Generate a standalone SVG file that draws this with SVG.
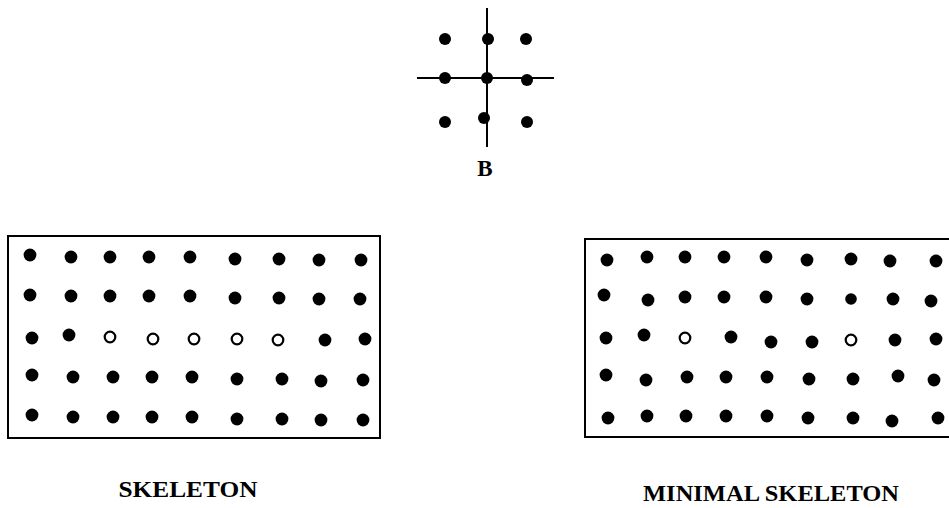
<svg xmlns="http://www.w3.org/2000/svg" width="949" height="508" viewBox="0 0 949 508">
<style>
.d{fill:#000}
.o{fill:none;stroke:#000;stroke-width:2.2}
.box{fill:none;stroke:#000;stroke-width:2}
.ln{stroke:#000;stroke-width:2}
.t{font-family:"Liberation Serif","Times New Roman",serif;font-weight:bold;fill:#000;text-anchor:middle}
</style>
<rect width="949" height="508" fill="#fff"/>
<g id="structuring-element-B">
<line class="ln" x1="487" y1="8" x2="487" y2="147"/>
<line class="ln" x1="417" y1="78" x2="554" y2="78"/>
<circle class="d" cx="445" cy="39" r="6"/><circle class="d" cx="488" cy="39" r="6"/><circle class="d" cx="526" cy="39" r="6"/>
<circle class="d" cx="445" cy="78" r="6"/><circle class="d" cx="487" cy="78" r="6"/><circle class="d" cx="527" cy="80" r="6"/>
<circle class="d" cx="445" cy="122" r="6"/><circle class="d" cx="484" cy="118" r="6"/><circle class="d" cx="527" cy="122" r="6"/>
<text class="t" x="485" y="176" font-size="23">B</text>
</g>
<g id="skeleton">
<rect class="box" x="8" y="236" width="372" height="202"/>
<g>
<circle class="d" cx="30" cy="255" r="6.4"/><circle class="d" cx="71" cy="257" r="6.4"/><circle class="d" cx="110" cy="257" r="6.4"/><circle class="d" cx="149" cy="257" r="6.4"/><circle class="d" cx="190" cy="257" r="6.4"/><circle class="d" cx="235" cy="259" r="6.4"/><circle class="d" cx="279" cy="259" r="6.4"/><circle class="d" cx="319" cy="260" r="6.4"/><circle class="d" cx="361" cy="260" r="6.4"/>
<circle class="d" cx="30" cy="295" r="6.4"/><circle class="d" cx="71" cy="296" r="6.4"/><circle class="d" cx="110" cy="296" r="6.4"/><circle class="d" cx="149" cy="296" r="6.4"/><circle class="d" cx="190" cy="296" r="6.4"/><circle class="d" cx="235" cy="298" r="6.4"/><circle class="d" cx="279" cy="298" r="6.4"/><circle class="d" cx="319" cy="299" r="6.4"/><circle class="d" cx="360" cy="299" r="6.4"/>
<circle class="d" cx="32" cy="338" r="6.4"/><circle class="d" cx="69" cy="335" r="6.4"/><circle class="o" cx="110" cy="337" r="5.3"/><circle class="o" cx="153" cy="339" r="5.3"/><circle class="o" cx="194" cy="339" r="5.3"/><circle class="o" cx="237" cy="339" r="5.3"/><circle class="o" cx="278" cy="340" r="5.3"/><circle class="d" cx="325" cy="340" r="6.4"/><circle class="d" cx="365" cy="339" r="6.4"/>
<circle class="d" cx="32" cy="375" r="6.4"/><circle class="d" cx="73" cy="377" r="6.4"/><circle class="d" cx="113" cy="377" r="6.4"/><circle class="d" cx="152" cy="377" r="6.4"/><circle class="d" cx="192" cy="377" r="6.4"/><circle class="d" cx="237" cy="379" r="6.4"/><circle class="d" cx="282" cy="379" r="6.4"/><circle class="d" cx="321" cy="381" r="6.4"/><circle class="d" cx="363" cy="380" r="6.4"/>
<circle class="d" cx="32" cy="415" r="6.4"/><circle class="d" cx="73" cy="417" r="6.4"/><circle class="d" cx="113" cy="417" r="6.4"/><circle class="d" cx="152" cy="417" r="6.4"/><circle class="d" cx="192" cy="417" r="6.4"/><circle class="d" cx="237" cy="419" r="6.4"/><circle class="d" cx="282" cy="419" r="6.4"/><circle class="d" cx="321" cy="420" r="6.4"/><circle class="d" cx="363" cy="420" r="6.4"/>
</g>
<text class="t" x="188" y="497" font-size="23" textLength="139" lengthAdjust="spacingAndGlyphs">SKELETON</text>
</g>
<g id="minimal-skeleton">
<rect class="box" x="585" y="239" width="372" height="198"/>
<g>
<circle class="d" cx="607" cy="260" r="6.4"/><circle class="d" cx="647" cy="257" r="6.4"/><circle class="d" cx="685" cy="257" r="6.4"/><circle class="d" cx="724" cy="257" r="6.4"/><circle class="d" cx="766" cy="257" r="6.4"/><circle class="d" cx="807" cy="260" r="6.4"/><circle class="d" cx="851" cy="259" r="6.4"/><circle class="d" cx="890" cy="261" r="6.4"/><circle class="d" cx="936" cy="261" r="6.4"/>
<circle class="d" cx="604" cy="295" r="6.4"/><circle class="d" cx="648" cy="300" r="6.4"/><circle class="d" cx="685" cy="297" r="6.4"/><circle class="d" cx="724" cy="297" r="6.4"/><circle class="d" cx="766" cy="297" r="6.4"/><circle class="d" cx="807" cy="299" r="6.4"/><circle class="d" cx="851" cy="299" r="5.8"/><circle class="d" cx="893" cy="299" r="6.4"/><circle class="d" cx="931" cy="301" r="6.4"/>
<circle class="d" cx="606" cy="338" r="6.4"/><circle class="d" cx="644" cy="335" r="6.4"/><circle class="o" cx="685" cy="338" r="5.3"/><circle class="d" cx="731" cy="337" r="6.4"/><circle class="d" cx="771" cy="342" r="6.4"/><circle class="d" cx="812" cy="342" r="6.4"/><circle class="o" cx="851" cy="340" r="5.3"/><circle class="d" cx="895" cy="340" r="6.4"/><circle class="d" cx="936" cy="339" r="6.4"/>
<circle class="d" cx="606" cy="375" r="6.4"/><circle class="d" cx="646" cy="380" r="6.4"/><circle class="d" cx="687" cy="377" r="6.4"/><circle class="d" cx="726" cy="377" r="6.4"/><circle class="d" cx="767" cy="377" r="6.4"/><circle class="d" cx="809" cy="379" r="6.4"/><circle class="d" cx="853" cy="379" r="6.4"/><circle class="d" cx="898" cy="376" r="6.4"/><circle class="d" cx="934" cy="380" r="6.4"/>
<circle class="d" cx="608" cy="418" r="6.4"/><circle class="d" cx="647" cy="416" r="6.4"/><circle class="d" cx="686" cy="416" r="6.4"/><circle class="d" cx="726" cy="416" r="6.4"/><circle class="d" cx="767" cy="416" r="6.4"/><circle class="d" cx="808" cy="418" r="6.4"/><circle class="d" cx="853" cy="418" r="6.4"/><circle class="d" cx="892" cy="421" r="6.4"/><circle class="d" cx="938" cy="418" r="6.4"/>
</g>
<text class="t" x="771" y="501" font-size="23" textLength="256" lengthAdjust="spacingAndGlyphs">MINIMAL SKELETON</text>
</g>
</svg>
